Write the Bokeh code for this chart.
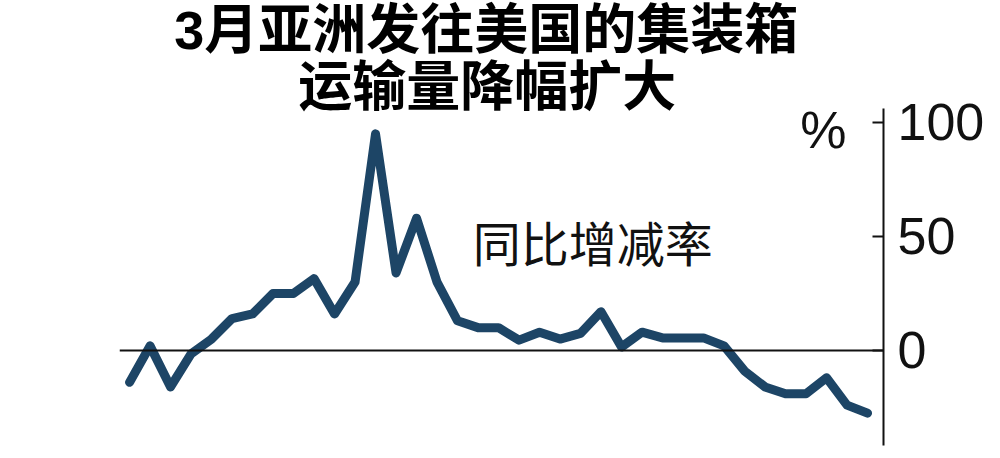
from bokeh.plotting import figure
from bokeh.models import LinearAxis, FixedTicker, Span, Label, Range1d
from bokeh.embed import file_html
from bokeh.resources import INLINE

# Data: year-on-year change (%) of container volume Asia -> US, monthly (Mar 2020 .. Mar 2023)
month_index = list(range(37))
yoy_change = [-14, 2, -16, -1.5, 5, 14, 16, 25, 25, 31.5, 16, 30, 95, 34, 58, 30,
              13, 10, 10, 4.5, 8, 5, 7.5, 17, 1.5, 8, 5.5, 5.5, 5.5, 2,
              -9, -16, -19, -19, -12, -24, -27.5]
y_ticks = [0, 50, 100]
title_lines = ["3月亚洲发往美国的集装箱", "运输量降幅扩大"]
series_label = "同比增减率"
unit_label = "%"

LATIN = "Liberation Sans"
CJK = "Noto Sans CJK SC"
TITLE_FONT = "Liberation Sans, Noto Sans CJK SC"

p = figure(width=1000, height=458, output_backend="svg", toolbar_location=None,
           x_axis_location=None, y_axis_location=None,
           x_range=Range1d(-0.49, 36.78), y_range=Range1d(-47.4, 153.5),
           min_border_left=119, min_border_right=117, min_border_top=0, min_border_bottom=0)
p.grid.visible = False
p.outline_line_color = None
p.background_fill_color = "white"
p.border_fill_color = "white"

# right axis
ax = LinearAxis(ticker=FixedTicker(ticks=y_ticks), bounds=(-41.7, 106.1))
ax.axis_line_width = 2
ax.axis_line_color = "#111111"
ax.major_tick_in = 11
ax.major_tick_out = 0
ax.major_tick_line_width = 2
ax.major_tick_line_color = "#111111"
ax.minor_tick_line_color = None
ax.major_label_standoff = 14
ax.major_label_text_font = LATIN
ax.major_label_text_font_size = "52px"
ax.major_label_text_color = "#111111"
p.add_layout(ax, "right")

# zero line
p.add_layout(Span(location=0, dimension="width", line_color="#111111", line_width=2))

p.line(month_index, yoy_change, line_width=9, line_color="#1d4566",
       line_join="round", line_cap="round")

# titles
p.add_layout(Label(x=17.4, y=140.6, text=title_lines[0], text_align="center",
                   text_baseline="middle", text_font=TITLE_FONT, text_font_style="bold",
                   text_font_size="54px", text_color="#000000"))
p.add_layout(Label(x=17.45, y=115.6, text=title_lines[1], text_align="center",
                   text_baseline="middle", text_font=TITLE_FONT, text_font_style="bold",
                   text_font_size="54px", text_color="#000000"))

p.add_layout(Label(x=22.6, y=48.2, text=series_label, text_align="center",
                   text_baseline="middle", text_font=CJK, text_font_size="48px",
                   text_color="#111111"))
p.add_layout(Label(x=33.85, y=96.5, text=unit_label, text_align="center",
                   text_baseline="middle", text_font=LATIN, text_font_size="52px",
                   text_color="#111111"))

open("out.html", "w").write(file_html(p, INLINE))
